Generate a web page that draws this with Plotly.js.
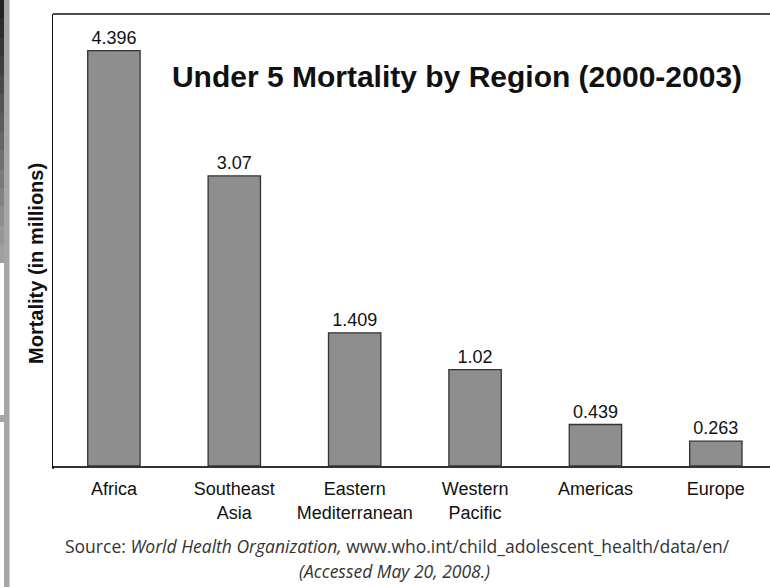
<!DOCTYPE html>
<html>
<head>
<meta charset="utf-8">
<script src="https://cdn.plot.ly/plotly-3.0.1.min.js"></script>
<style>html,body{margin:0;padding:0;background:#fff;}#chart{width:770px;height:587px;}</style>
</head>
<body>
<div id="chart"></div>
<script>
// ---- data ----
const regions = ["Africa", "Southeast<br>Asia", "Eastern<br>Mediterranean", "Western<br>Pacific", "Americas", "Europe"];
const mortality = [4.396, 3.07, 1.409, 1.02, 0.439, 0.263];
const valueLabels = ["4.396", "3.07", "1.409", "1.02", "0.439", "0.263"];
const chartTitle = "Under 5 Mortality by Region (2000-2003)";
const yTitle = "Mortality (in millions)";
const sourceLine1 = "Source: <i>World Health Organization,</i> www.who.int/child_adolescent_health/data/en/";
const sourceLine2 = "<i>(Accessed May 20, 2008.)</i>";

// ---- layout helpers ----
const W = 770, H = 587, M = {l: 53, r: 0, t: 14, b: 121};
const pw = W - M.l - M.r, ph = H - M.t - M.b;
const px = x => (x - M.l) / pw;          // pixel -> paper x
const py = y => 1 - (y - M.t) / ph;      // pixel -> paper y
const FONT = 'Arial, "Liberation Sans", sans-serif';

// scan-edge decoration at the far left
const shapes = [];
const steps = 14;
for (let i = 0; i < steps; i++) {
  const g = Math.round(0x22 + (0xa0 - 0x22) * i / (steps - 1));
  const c = `rgb(${g},${g},${g})`;
  const yTop = 263 * i / steps, yBot = Math.min(263, 263 * (i + 1) / steps + 1);
  shapes.push({type: 'rect', xref: 'paper', yref: 'paper', x0: px(0), x1: px(4),
    y0: py(yBot), y1: py(yTop), fillcolor: c, line: {width: 0}});
}
shapes.push({type: 'rect', xref: 'paper', yref: 'paper', x0: px(4), x1: px(9), y0: py(H), y1: py(0),
  fillcolor: '#a6a6a6', line: {width: 0}});
shapes.push({type: 'rect', xref: 'paper', yref: 'paper', x0: px(9), x1: px(10), y0: py(H), y1: py(0),
  fillcolor: '#d0d0d0', line: {width: 0}});
shapes.push({type: 'rect', xref: 'paper', yref: 'paper', x0: px(0), x1: px(4), y0: py(422), y1: py(415),
  fillcolor: '#a6a6a6', line: {width: 0}});
// top frame line
shapes.push({type: 'line', xref: 'paper', yref: 'paper', x0: 0, x1: 1, y0: 1, y1: 1,
  line: {color: '#111', width: 1.5}});
// left frame tick below baseline
shapes.push({type: 'line', xref: 'paper', yref: 'paper', x0: 0, x1: 0, y0: py(466), y1: py(469),
  line: {color: '#111', width: 1.5}});

const trace = {
  type: 'bar',
  x: regions,
  y: mortality,
  text: valueLabels,
  textposition: 'outside',
  textfont: {family: FONT, size: 18, color: '#111'},
  cliponaxis: false,
  width: 0.435,
  marker: {color: '#8e8e8e', line: {color: '#333', width: 1.3}},
  hoverinfo: 'x+y'
};

const layout = {
  width: W, height: H,
  margin: M,
  paper_bgcolor: '#fff', plot_bgcolor: '#fff',
  showlegend: false,
  font: {family: FONT, color: '#111'},
  title: {
    text: chartTitle,
    font: {family: FONT, size: 30, weight: 'bold', color: '#111'},
    xref: 'paper', x: px(457), xanchor: 'center',
    yref: 'container', y: 1 - 76 / H, yanchor: 'middle'
  },
  xaxis: {
    type: 'category',
    range: [-0.506, 5.45],
    showline: true, linecolor: '#333', linewidth: 1.5,
    ticks: '', showgrid: false, zeroline: false,
    ticklabelstandoff: 6,
    tickfont: {family: FONT, size: 18, color: '#111'},
    fixedrange: true
  },
  yaxis: {
    range: [0, 4.783],
    showline: true, linecolor: '#111', linewidth: 1.5,
    showticklabels: false, ticks: '', showgrid: false, zeroline: false,
    fixedrange: true
  },
  shapes: shapes,
  annotations: [
    {text: '<b>' + yTitle + '</b>', xref: 'paper', yref: 'paper', x: px(36), y: py(264),
     xanchor: 'center', yanchor: 'middle', textangle: -90, showarrow: false,
     font: {family: FONT, size: 20, color: '#111'}},
    {text: sourceLine1, xref: 'paper', yref: 'paper', x: px(397), y: py(546), xanchor: 'center', yanchor: 'middle',
     showarrow: false, font: {family: '"Open Sans", "Noto Sans", sans-serif', size: 17.5, color: '#333'}},
    {text: sourceLine2, xref: 'paper', yref: 'paper', x: px(394), y: py(571), xanchor: 'center', yanchor: 'middle',
     showarrow: false, font: {family: '"Open Sans", "Noto Sans", sans-serif', size: 17.5, color: '#333'}}
  ]
};

Plotly.newPlot('chart', [trace], layout, {displayModeBar: false, staticPlot: true});
</script>
</body>
</html>
